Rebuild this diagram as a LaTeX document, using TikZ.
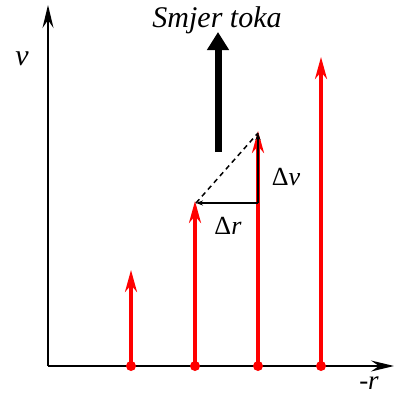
\documentclass[tikz,border=0pt]{standalone}
\usepackage{fontspec}
\newfontfamily\lib{Liberation Serif}
\usetikzlibrary{arrows.meta}
\begin{document}
\begin{tikzpicture}[x=1pt,y=-1pt,
  axis/.style={line width=2pt,-{Stealth[length=23pt,width=11pt,inset=8pt]}},
  vel/.style={red,line width=3.2pt,-{Stealth[length=22pt,width=12pt,inset=7pt]}},
  dot/.style={circle,fill=red,inner sep=0pt,minimum size=10pt},
  fineline/.style={line width=1.5pt},
  lbl/.style={font=\fontsize{30}{30}\selectfont\lib}
]
\useasboundingbox (0,0) rectangle (398,396);
% axes
\coordinate (O) at (48,366);
\coordinate (ytop) at (48,5);
\coordinate (xend) at (394,366);
\draw[axis] (O) -- (ytop);
\draw[axis] (O) -- (xend);
% velocity arrows
\node[dot] (b1) at (131,366) {};
\node[dot] (b2) at (195,366) {};
\node[dot] (b3) at (258,366) {};
\node[dot] (b4) at (321,366) {};
\coordinate (t1) at (131,270);
\coordinate (t2) at (195,201);
\coordinate (t3) at (258,131);
\coordinate (t4) at (321,57);
\draw[vel] (b1.center) -- (t1);
\draw[vel] (b2.center) -- (t2);
\draw[vel] (b3.center) -- (t3);
\draw[vel] (b4.center) -- (t4);
% delta construction
\coordinate (c) at (258,203);
\coordinate (l) at (196,203);
\coordinate (u) at (258,133);
\draw[fineline,-{Stealth[length=7pt,width=5pt]}] (c) -- (l);
\draw[fineline,-{Stealth[length=7pt,width=5pt]}] (c) -- (u);
\draw[fineline,dashed,dash pattern=on 5pt off 4pt] (l) -- (u);
% flow direction arrow
\coordinate (fa) at (218,152);
\coordinate (fb) at (218,32);
\draw[line width=7pt,-{Triangle[length=18pt,width=21pt]}] (fa) -- (fb);
% labels
\node[lbl] (smjer) at (217,20) {\itshape Smjer toka};
\node[lbl] (vlab) at (22,59) {\itshape v};
\node[lbl] (dv) at (286,177) {\scalebox{0.87}{Δ\textit{v}}};
\node[lbl] (dr) at (228,226) {\scalebox{0.87}{Δ\textit{r}}};
\node[lbl,inner sep=0pt,anchor=north] (rlab) at (369,377) {\scalebox{0.9}{\itshape -r}};
\end{tikzpicture}
\end{document}
